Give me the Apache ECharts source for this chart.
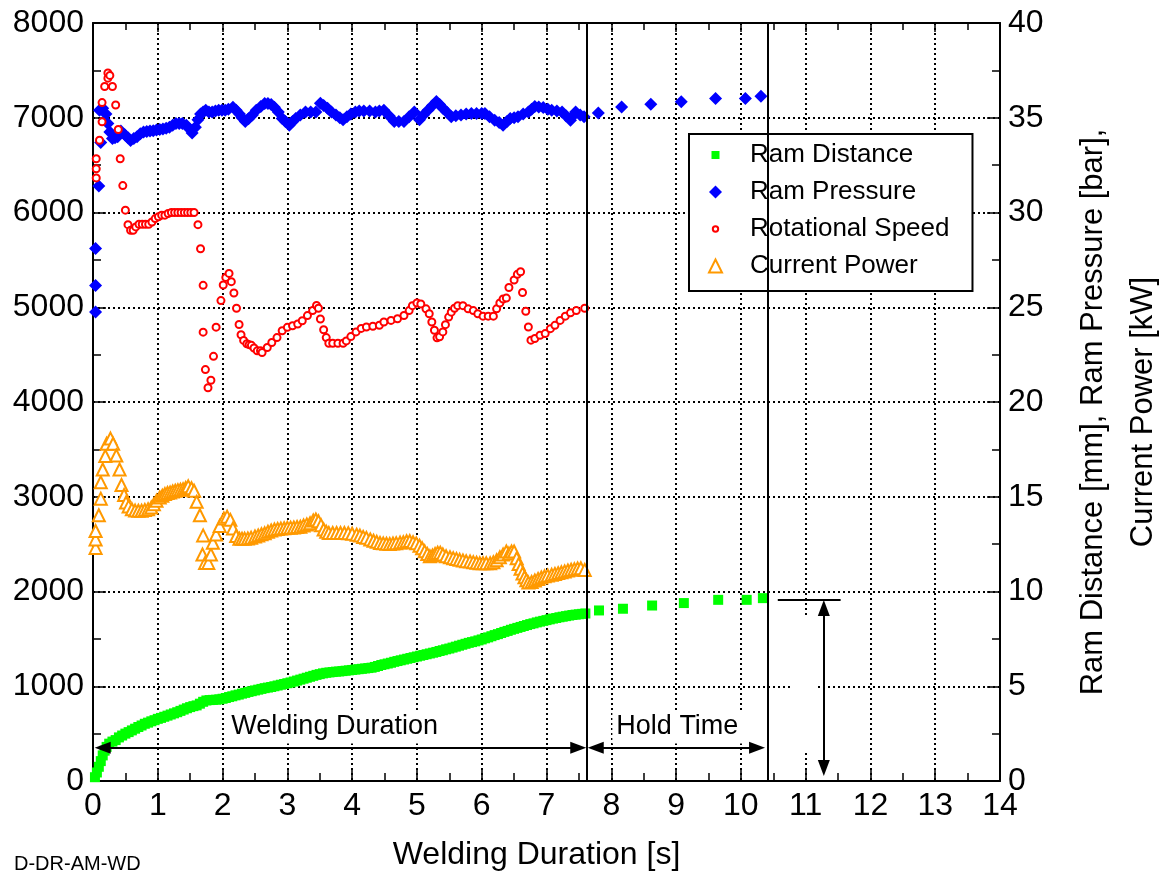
<!DOCTYPE html>
<html><head><meta charset="utf-8">
<script src="https://cdn.jsdelivr.net/npm/echarts@6/dist/echarts.min.js"></script>
<style>html,body{margin:0;padding:0;background:#fff}#c{width:1170px;height:880px}</style>
</head><body><div id="c"></div>
<script>
const FONT = '"Liberation Sans", Arial, Helvetica, sans-serif';

// ---- data: [time s, value] ----
// Ram Distance [mm] (right axis)
const ramDistanceWeld = [[0.03,0.2],[0.06,0.45],[0.09,0.75],[0.12,1.05],[0.15,1.35],[0.18,1.6],[0.21,1.8],[0.25,1.97],[0.30,2.08],[0.35,2.16],[0.40,2.3],[0.45,2.4],[0.50,2.5],[0.55,2.58],[0.60,2.67],[0.65,2.76],[0.70,2.85],[0.75,2.93],[0.80,3.02],[0.85,3.08],[0.90,3.15],[0.95,3.21],[1.00,3.28],[1.05,3.33],[1.10,3.39],[1.15,3.45],[1.20,3.51],[1.25,3.57],[1.30,3.63],[1.35,3.7],[1.40,3.77],[1.45,3.84],[1.50,3.9],[1.55,3.95],[1.60,3.99],[1.65,4.08],[1.70,4.18],[1.75,4.25],[1.80,4.27],[1.85,4.28],[1.90,4.29],[1.95,4.31],[2.00,4.34],[2.05,4.38],[2.10,4.43],[2.15,4.47],[2.20,4.52],[2.25,4.56],[2.30,4.61],[2.35,4.65],[2.40,4.7],[2.45,4.74],[2.50,4.78],[2.55,4.82],[2.60,4.86],[2.65,4.9],[2.70,4.93],[2.75,4.96],[2.80,5.0],[2.85,5.04],[2.90,5.08],[2.95,5.12],[3.00,5.16],[3.05,5.2],[3.10,5.25],[3.15,5.3],[3.20,5.35],[3.25,5.4],[3.30,5.45],[3.35,5.5],[3.40,5.55],[3.45,5.6],[3.50,5.64],[3.55,5.68],[3.60,5.71],[3.65,5.73],[3.70,5.75],[3.75,5.77],[3.80,5.78],[3.85,5.8],[3.90,5.82],[3.95,5.84],[4.00,5.86],[4.05,5.88],[4.10,5.9],[4.15,5.92],[4.20,5.94],[4.25,5.96],[4.30,5.98],[4.35,6.02],[4.40,6.07],[4.45,6.12],[4.50,6.16],[4.55,6.2],[4.60,6.24],[4.65,6.29],[4.70,6.33],[4.75,6.37],[4.80,6.41],[4.85,6.45],[4.90,6.49],[4.95,6.53],[5.00,6.57],[5.05,6.61],[5.10,6.65],[5.15,6.69],[5.20,6.73],[5.25,6.77],[5.30,6.81],[5.35,6.86],[5.40,6.9],[5.45,6.95],[5.50,6.99],[5.55,7.04],[5.60,7.09],[5.65,7.14],[5.70,7.19],[5.75,7.24],[5.80,7.29],[5.85,7.33],[5.90,7.37],[5.95,7.42],[6.00,7.47],[6.05,7.53],[6.10,7.58],[6.15,7.64],[6.20,7.7],[6.25,7.75],[6.30,7.81],[6.35,7.87],[6.40,7.92],[6.45,7.98],[6.50,8.03],[6.55,8.08],[6.60,8.13],[6.65,8.18],[6.70,8.23],[6.75,8.28],[6.80,8.32],[6.85,8.37],[6.90,8.41],[6.95,8.45],[7.00,8.49],[7.05,8.53],[7.10,8.57],[7.15,8.6],[7.20,8.64],[7.25,8.67],[7.30,8.7],[7.35,8.73],[7.40,8.76],[7.45,8.78],[7.50,8.8],[7.55,8.82],[7.60,8.84]];
const ramDistanceHold = [[7.81,9.0],[8.18,9.09],[8.63,9.26],[9.12,9.39],[9.65,9.56],[10.09,9.56],[10.34,9.65]];

// Ram Pressure [bar] (right axis)
const ramPressureWeld = [[0.04,24.75],[0.04,26.15],[0.04,28.1],[0.09,31.4],[0.12,33.7],[0.10,35.4],[0.15,35.5],[0.20,35.2],[0.23,34.7],[0.26,34.25],[0.30,33.9],[0.34,33.95],[0.38,34.0],[0.43,34.3],[0.49,34.1],[0.54,33.95],[0.58,33.8],[0.63,33.9],[0.68,34.0],[0.73,34.15],[0.78,34.25],[0.83,34.28],[0.88,34.3],[0.93,34.32],[0.98,34.35],[1.03,34.38],[1.08,34.4],[1.13,34.45],[1.18,34.5],[1.23,34.6],[1.28,34.7],[1.33,34.7],[1.38,34.7],[1.44,34.6],[1.49,34.4],[1.53,34.2],[1.58,34.5],[1.62,34.9],[1.66,35.2],[1.70,35.3],[1.74,35.4],[1.79,35.3],[1.84,35.3],[1.89,35.35],[1.94,35.4],[1.99,35.4],[2.04,35.4],[2.09,35.45],[2.16,35.55],[2.21,35.4],[2.26,35.2],[2.30,35.0],[2.35,34.8],[2.40,34.95],[2.46,35.15],[2.52,35.4],[2.59,35.6],[2.65,35.75],[2.70,35.75],[2.75,35.7],[2.80,35.55],[2.86,35.3],[2.92,34.96],[2.97,34.8],[3.03,34.6],[3.08,34.8],[3.13,34.96],[3.20,35.15],[3.28,35.3],[3.36,35.3],[3.44,35.3],[3.51,35.77],[3.56,35.65],[3.62,35.5],[3.68,35.3],[3.75,35.15],[3.81,35.0],[3.86,34.9],[3.92,35.05],[3.98,35.2],[4.05,35.3],[4.11,35.35],[4.18,35.35],[4.27,35.35],[4.36,35.3],[4.42,35.35],[4.49,35.4],[4.57,35.1],[4.65,34.8],[4.72,34.8],[4.80,34.8],[4.88,35.05],[4.96,35.3],[5.04,34.9],[5.10,35.15],[5.17,35.4],[5.24,35.65],[5.30,35.86],[5.35,35.7],[5.40,35.5],[5.46,35.3],[5.53,35.05],[5.60,35.1],[5.68,35.14],[5.76,35.2],[5.84,35.23],[5.92,35.23],[6.00,35.23],[6.05,35.23],[6.12,35.05],[6.20,34.87],[6.27,34.75],[6.33,34.6],[6.39,34.8],[6.44,34.96],[6.50,35.0],[6.56,35.05],[6.64,35.2],[6.72,35.3],[6.77,35.45],[6.82,35.6],[6.88,35.57],[6.95,35.54],[7.02,35.45],[7.08,35.4],[7.16,35.35],[7.24,35.3],[7.30,35.1],[7.37,34.87],[7.41,35.1],[7.45,35.3],[7.52,35.15],[7.58,35.05]];
const ramPressureHold = [[7.80,35.25],[8.16,35.57],[8.61,35.71],[9.08,35.84],[9.61,36.02],[10.07,36.02],[10.31,36.14]];

// Rotational Speed [rpm] (left axis)
const rotationalSpeed = [[0.05,6567],[0.05,6461],[0.05,6365],[0.10,6762],[0.14,6957],[0.14,7160],[0.18,7330],[0.23,7472],[0.23,7418],[0.26,7447],[0.30,7330],[0.35,7135],[0.39,6876],[0.42,6567],[0.46,6284],[0.50,6025],[0.54,5872],[0.58,5812],[0.62,5812],[0.66,5848],[0.71,5876],[0.76,5876],[0.81,5876],[0.86,5876],[0.91,5900],[0.96,5936],[1.01,5954],[1.06,5972],[1.11,5972],[1.16,5990],[1.21,6000],[1.26,6000],[1.31,6000],[1.36,6000],[1.41,6000],[1.46,6000],[1.51,6000],[1.56,6000],[1.62,5872],[1.66,5617],[1.70,5231],[1.70,4737],[1.735,4342],[1.775,4150],[1.82,4230],[1.86,4482],[1.90,4790],[1.975,5070],[2.01,5235],[2.05,5315],[2.10,5357],[2.135,5270],[2.175,5150],[2.215,4990],[2.255,4818],[2.285,4710],[2.325,4650],[2.375,4615],[2.41,4605],[2.445,4598],[2.485,4570],[2.535,4540],[2.585,4540],[2.61,4522],[2.69,4575],[2.76,4628],[2.84,4680],[2.92,4752],[3.00,4788],[3.08,4805],[3.16,4823],[3.23,4858],[3.31,4912],[3.39,4965],[3.45,5018],[3.48,4990],[3.51,4876],[3.56,4762],[3.60,4680],[3.64,4620],[3.70,4620],[3.78,4620],[3.86,4620],[3.91,4645],[3.98,4690],[4.06,4740],[4.14,4777],[4.22,4792],[4.32,4800],[4.42,4810],[4.49,4844],[4.60,4861],[4.70,4879],[4.80,4913],[4.88,4965],[4.93,5017],[5.00,5045],[5.06,5035],[5.14,4983],[5.19,4931],[5.23,4844],[5.27,4757],[5.31,4677],[5.35,4688],[5.40,4740],[5.44,4816],[5.49,4896],[5.53,4948],[5.58,4990],[5.63,5017],[5.71,5017],[5.79,4983],[5.87,4965],[5.94,4931],[6.02,4906],[6.10,4906],[6.18,4906],[6.23,4983],[6.28,5045],[6.33,5087],[6.38,5097],[6.42,5208],[6.50,5288],[6.55,5347],[6.60,5375],[6.63,5156],[6.68,4958],[6.72,4792],[6.76,4653],[6.82,4670],[6.90,4705],[6.98,4722],[7.06,4774],[7.13,4809],[7.21,4861],[7.29,4906],[7.37,4941],[7.46,4965],[7.59,4990]];

// Current Power [kW] (right axis)
const currentPower = [[0.04,12.3],[0.04,12.75],[0.04,13.19],[0.09,14.02],[0.12,14.9],[0.12,15.76],[0.15,16.44],[0.19,17.15],[0.21,17.8],[0.27,18.07],[0.31,17.8],[0.36,17.18],[0.41,16.44],[0.44,15.62],[0.48,15.09],[0.51,14.7],[0.55,14.49],[0.60,14.34],[0.65,14.27],[0.70,14.26],[0.75,14.26],[0.80,14.3],[0.85,14.34],[0.90,14.43],[0.94,14.6],[0.98,14.79],[1.03,14.96],[1.07,15.05],[1.11,15.14],[1.15,15.2],[1.19,15.23],[1.23,15.28],[1.27,15.32],[1.31,15.35],[1.35,15.37],[1.39,15.4],[1.43,15.46],[1.47,15.55],[1.52,15.45],[1.56,15.32],[1.60,14.73],[1.65,14.02],[1.70,12.96],[1.69,11.95],[1.73,11.51],[1.78,11.51],[1.82,11.95],[1.85,12.57],[1.90,13.01],[1.955,13.46],[2.02,13.85],[2.07,13.95],[2.12,13.78],[2.16,13.32],[2.21,12.93],[2.26,12.78],[2.30,12.78],[2.34,12.78],[2.39,12.8],[2.44,12.84],[2.50,12.9],[2.55,12.96],[2.60,13.02],[2.65,13.07],[2.70,13.15],[2.75,13.22],[2.80,13.27],[2.85,13.3],[2.90,13.32],[2.95,13.34],[3.00,13.36],[3.05,13.37],[3.10,13.38],[3.15,13.4],[3.20,13.42],[3.25,13.48],[3.30,13.54],[3.35,13.6],[3.40,13.75],[3.44,13.8],[3.48,13.71],[3.52,13.5],[3.56,13.27],[3.60,13.15],[3.64,13.09],[3.70,13.09],[3.76,13.09],[3.82,13.09],[3.88,13.09],[3.94,13.08],[4.00,13.05],[4.07,13.0],[4.12,12.95],[4.17,12.88],[4.22,12.83],[4.28,12.75],[4.33,12.68],[4.38,12.62],[4.43,12.56],[4.48,12.54],[4.53,12.52],[4.58,12.51],[4.63,12.53],[4.68,12.55],[4.74,12.58],[4.79,12.6],[4.84,12.65],[4.89,12.66],[4.94,12.6],[4.99,12.54],[5.04,12.42],[5.08,12.28],[5.12,12.12],[5.16,11.98],[5.20,11.86],[5.24,11.9],[5.28,11.98],[5.32,12.05],[5.36,12.05],[5.40,11.95],[5.45,11.86],[5.51,11.81],[5.56,11.76],[5.61,11.72],[5.66,11.67],[5.71,11.64],[5.76,11.6],[5.82,11.58],[5.87,11.55],[5.92,11.52],[5.97,11.49],[6.02,11.49],[6.07,11.49],[6.13,11.49],[6.18,11.55],[6.23,11.65],[6.28,11.81],[6.33,11.95],[6.38,12.11],[6.42,12.0],[6.46,12.11],[6.50,12.11],[6.54,11.75],[6.57,11.45],[6.60,11.2],[6.63,10.95],[6.66,10.75],[6.69,10.6],[6.72,10.47],[6.77,10.5],[6.82,10.58],[6.87,10.66],[6.92,10.74],[6.97,10.8],[7.02,10.84],[7.08,10.88],[7.13,10.93],[7.18,10.97],[7.23,11.01],[7.28,11.06],[7.33,11.11],[7.38,11.15],[7.43,11.18],[7.48,11.21],[7.53,11.23],[7.59,11.14]];

// phase boundaries / annotation anchors [s], [mm]
const weldEnd = 7.615;
const holdEnd = 10.42;
const arrowLevel = 1.75;
const finalDistance = 9.56;

const seriesNames = ['Ram Distance', 'Ram Pressure', 'Rotational Speed', 'Current Power'];

const chart = echarts.init(document.getElementById('c'), null, {renderer: 'canvas'});

const black = '#000';
const tickStyle = {color: black, width: 1.5};
const gridLineStyle = {color: black, width: 2, type: [2, 3]};

// small legend icons (invisible corner moves keep the 13x13 box)
const legendIcons = {
  'Ram Distance': {icon: 'path://M0,0M13,13M2.5,2.5L10.5,2.5L10.5,10.5L2.5,10.5Z', itemStyle: {color: '#00ff00', borderWidth: 0, opacity: 1}},
  'Ram Pressure': {icon: 'diamond', itemStyle: {color: '#0000ff', borderWidth: 0, opacity: 1}},
  'Rotational Speed': {icon: 'path://M0,0M13,13M3.8,6.5A2.7,2.7 0 0,1 9.2,6.5A2.7,2.7 0 0,1 3.8,6.5Z', itemStyle: {color: '#fff', borderColor: '#ff0000', borderWidth: 2, opacity: 1}},
  'Current Power': {icon: 'emptyTriangle', itemStyle: {color: '#ff9900', borderColor: '#ff9900', borderWidth: 2, opacity: 1}}
};

const option = {
  animation: false,
  backgroundColor: '#fff',
  textStyle: {fontFamily: FONT, color: black},
  grid: {left: 93, right: 170, top: 23, bottom: 99, containLabel: false},
  legend: {
    data: seriesNames.map(n => Object.assign({name: n}, legendIcons[n])),
    orient: 'vertical',
    left: 689, top: 134,
    padding: [8, 23, 12, 19],
    itemWidth: 13, itemHeight: 13, itemGap: 11,
    backgroundColor: '#fff', borderColor: black, borderWidth: 2, borderRadius: 0,
    selectedMode: false,
    textStyle: {fontSize: 26, color: black, fontFamily: FONT, lineHeight: 26, padding: [0, 0, 0, 23]}
  },
  xAxis: [{
    type: 'value', min: 0, max: 14, interval: 1, position: 'bottom',
    axisLine: {show: true, onZero: false, lineStyle: {color: black, width: 2}},
    axisTick: {show: true, inside: true, length: 13, lineStyle: tickStyle},
    minorTick: {show: true, splitNumber: 2, length: 8, lineStyle: tickStyle},
    axisLabel: {fontSize: 32, color: black, margin: 9, fontFamily: FONT},
    splitLine: {show: true, lineStyle: gridLineStyle},
    name: 'Welding Duration [s]', nameLocation: 'middle', nameGap: 58,
    nameTextStyle: {fontSize: 32, color: black, fontFamily: FONT, padding: [0, 20, 0, 0]}
  }, {
    type: 'value', min: 0, max: 14, interval: 1, position: 'top',
    axisLine: {show: true, onZero: false, lineStyle: {color: black, width: 2}},
    axisTick: {show: true, inside: true, length: 9, lineStyle: tickStyle},
    minorTick: {show: true, splitNumber: 2, length: 7, lineStyle: tickStyle},
    axisLabel: {show: false}, splitLine: {show: false}
  }],
  yAxis: [{
    type: 'value', min: 0, max: 8000, interval: 1000, position: 'left',
    axisLine: {show: true, onZero: false, lineStyle: {color: black, width: 2}},
    axisTick: {show: true, inside: true, length: 13, lineStyle: tickStyle},
    minorTick: {show: true, splitNumber: 2, length: 8, lineStyle: tickStyle},
    axisLabel: {fontSize: 32, color: black, margin: 9, fontFamily: FONT, formatter: v => String(v)},
    splitLine: {show: true, lineStyle: gridLineStyle}
  }, {
    type: 'value', min: 0, max: 40, interval: 5, position: 'right',
    axisLine: {show: true, onZero: false, lineStyle: {color: black, width: 2}},
    axisTick: {show: true, inside: true, length: 13, lineStyle: tickStyle},
    minorTick: {show: true, splitNumber: 2, length: 8, lineStyle: tickStyle},
    axisLabel: {fontSize: 32, color: black, margin: 8, fontFamily: FONT, formatter: v => String(v)},
    splitLine: {show: false}
  }],
  series: [
    {
      name: 'Ram Distance', type: 'scatter', yAxisIndex: 1,
      symbol: 'rect', symbolSize: 10,
      itemStyle: {color: '#00ff00', opacity: 1},
      data: ramDistanceWeld.concat(ramDistanceHold), z: 3
    },
    {
      name: 'Ram Pressure', type: 'scatter', yAxisIndex: 1,
      symbol: 'diamond', symbolSize: 13,
      itemStyle: {color: '#0000ff', opacity: 1},
      data: ramPressureWeld.concat(ramPressureHold), z: 3
    },
    {
      name: 'Rotational Speed', type: 'scatter', yAxisIndex: 0,
      symbol: 'emptyCircle', symbolSize: 7,
      itemStyle: {color: '#ff0000', borderColor: '#ff0000', borderWidth: 2, opacity: 1},
      data: rotationalSpeed, z: 3
    },
    {
      name: 'Current Power', type: 'scatter', yAxisIndex: 1,
      symbol: 'emptyTriangle', symbolSize: 12,
      itemStyle: {color: '#ff9900', borderColor: '#ff9900', borderWidth: 2, opacity: 1},
      data: currentPower, z: 3
    },
    {
      name: 'annotations', type: 'scatter', yAxisIndex: 1, data: [], z: 4,
      markPoint: {
        silent: true, animation: false,
        data: [
          {coord: [10.99, 5.12], symbol: 'rect', symbolSize: [26, 132], itemStyle: {color: '#fff', opacity: 1}, label: {show: false}},
          {name: 'Welding Duration', coord: [3.73, 2.85], symbol: 'rect', symbolSize: 0,
            label: {show: true, position: 'inside', formatter: '{b}', fontSize: 27, color: black, fontFamily: FONT, backgroundColor: '#fff', padding: [3, 4]}},
          {name: 'Hold Time', coord: [9.02, 2.85], symbol: 'rect', symbolSize: 0,
            label: {show: true, position: 'inside', formatter: '{b}', fontSize: 27, color: black, fontFamily: FONT, backgroundColor: '#fff', padding: [3, 4]}}
        ]
      },
      markLine: {
        silent: true, animation: false,
        symbol: ['none', 'none'],
        label: {show: false},
        lineStyle: {color: black, width: 2, type: 'solid', opacity: 1},
        data: [
          [{coord: [weldEnd, 0]}, {coord: [weldEnd, 40]}],
          [{coord: [holdEnd, 0]}, {coord: [holdEnd, 40]}],
          [{coord: [10.57, finalDistance]}, {coord: [11.54, finalDistance]}],
          [{coord: [0.15, arrowLevel], symbol: 'triangle', symbolSize: [12, 16]},
           {coord: [7.49, arrowLevel], symbol: 'triangle', symbolSize: [12, 16]}],
          [{coord: [7.76, arrowLevel], symbol: 'triangle', symbolSize: [12, 16]},
           {coord: [10.25, arrowLevel], symbol: 'triangle', symbolSize: [12, 16]}],
          [{coord: [11.28, 9.13], symbol: 'triangle', symbolSize: [12, 16]},
           {coord: [11.28, 0.69], symbol: 'triangle', symbolSize: [12, 16]}]
        ]
      }
    }
  ],
  graphic: [
    {
      type: 'text', x: 1118, y: 412, rotation: Math.PI / 2, z: 10,
      style: {
        text: 'Ram Distance [mm], Ram Pressure [bar],\nCurrent Power [kW]',
        font: '31px ' + FONT, fill: black, align: 'center', verticalAlign: 'middle', lineHeight: 50
      }
    },
    {
      type: 'text', left: 14, top: 854, z: 10,
      style: {text: 'D-DR-AM-WD', font: '20px ' + FONT, fill: black}
    }
  ]
};
chart.setOption(option);
</script>
</body></html>
